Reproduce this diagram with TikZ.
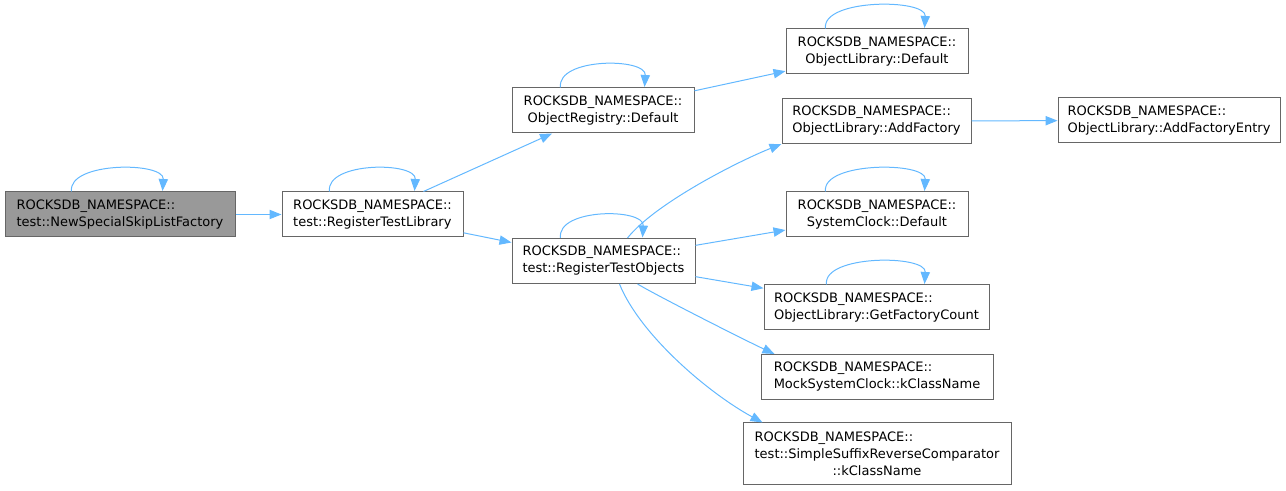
\documentclass[tikz,border=0pt]{standalone}
\usepackage{fontspec}
\setmainfont{DejaVu Sans}
\usetikzlibrary{arrows.meta,calc}

\definecolor{edgeblue}{HTML}{63B8FF}
\definecolor{boxline}{HTML}{666666}
\definecolor{boxfill}{HTML}{999999}

\begin{document}
\begin{tikzpicture}[x=0.75pt, y=-0.75pt,
  fn/.style={draw=boxline, fill=white, line width=0.75pt, align=left, inner xsep=2pt,
    minimum height=33.75pt, font=\fontsize{9.75}{12.75}\selectfont},
  bw/.style={minimum width=#1*0.75pt},
  edge/.style={-{Triangle[length=9pt, width=7pt]}, draw=edgeblue, line width=0.75pt},
  self/.style={edge, shorten >=0.4pt}]
\useasboundingbox (0,0) rectangle (1286,491);

% Caller chain on the left
\node[fn, bw=230, fill=boxfill] (nsf) at (120,214.5) {ROCKSDB\_NAMESPACE::\\test::NewSpecialSkipListFactory};
\node[fn, bw=181] (rtl) at (372.5,214.5) {ROCKSDB\_NAMESPACE::\\test::RegisterTestLibrary};

% Middle column
\node[fn, bw=182, align=center] (ord) at (603,110.5) {ROCKSDB\_NAMESPACE::\\ObjectRegistry::Default};
\node[fn, bw=183] (rto) at (603.5,261) {ROCKSDB\_NAMESPACE::\\test::RegisterTestObjects};

% Right column: callees
\node[fn, bw=182, align=center] (old) at (877,51.5) {ROCKSDB\_NAMESPACE::\\ObjectLibrary::Default};
\node[fn, bw=189] (olaf) at (876.5,121) {ROCKSDB\_NAMESPACE::\\ObjectLibrary::AddFactory};
\node[fn, bw=182, align=center] (scd) at (877,214.5) {ROCKSDB\_NAMESPACE::\\SystemClock::Default};
\node[fn, bw=225] (gfc) at (876.5,307.5) {ROCKSDB\_NAMESPACE::\\ObjectLibrary::GetFactoryCount};
\node[fn, bw=232] (msc) at (877,377) {ROCKSDB\_NAMESPACE::\\MockSystemClock::kClassName};
\node[fn, bw=268, minimum height=46.5pt, align=center] (ssr) at (877,454)
  {\rlap{ROCKSDB\_NAMESPACE::}\hphantom{test::SimpleSuffixReverseComparator}\\\rlap{test::SimpleSuffixReverseComparator}\hphantom{test::SimpleSuffixReverseComparator}\\::kClassName};
\node[fn, bw=222] (afe) at (1169,120.5) {ROCKSDB\_NAMESPACE::\\ObjectLibrary::AddFactoryEntry};

% Self loops
\draw[self] ($(nsf.north west)+(67,0)$) .. controls +(-4,-30) and +(2,-30) .. ($(nsf.north west)+(158,0)$);
\draw[self] ($(rtl.north west)+(48,0)$) .. controls +(-4,-30) and +(2,-30) .. ($(rtl.north west)+(133,0)$);
\draw[self] ($(ord.north west)+(49,0)$) .. controls +(-4,-30) and +(2,-30) .. ($(ord.north west)+(133,0)$);
\draw[self] ($(rto.north west)+(49,0)$) .. controls +(-4,-30) and +(2,-30) .. ($(rto.north west)+(131,0)$);
\draw[self] ($(old.north west)+(40,0)$) .. controls +(-4,-30) and +(2,-30) .. ($(old.north west)+(139,0)$);
\draw[self] ($(scd.north west)+(40,0)$) .. controls +(-4,-30) and +(2,-30) .. ($(scd.north west)+(139,0)$);
\draw[self] ($(gfc.north west)+(63,0)$) .. controls +(-4,-30) and +(2,-30) .. ($(gfc.north west)+(161,0)$);

% Calls
\draw[edge] (nsf) -- (rtl);
\draw[edge] (rtl) -- (ord);
\draw[edge] (rtl) -- (rto);
\draw[edge] (ord) -- (old);
\draw[edge] (olaf) -- (afe);
\draw[edge] (rto) -- (scd);
\draw[edge] (rto) -- (gfc);
\draw[edge] ($(rto.north west)+(116,0)$) .. controls +(27,-34) and +(-45,18) .. (olaf.south west);
\draw[edge] ($(rto.south west)+(126,0)$) .. controls +(20,12) and +(-30,-14) .. ($(msc.north west)+(14,0)$);
\draw[edge] ($(rto.south west)+(108,0)$) .. controls +(20,50) and +(-55,-30) .. ($(ssr.north west)+(20,0)$);
\end{tikzpicture}
\end{document}
